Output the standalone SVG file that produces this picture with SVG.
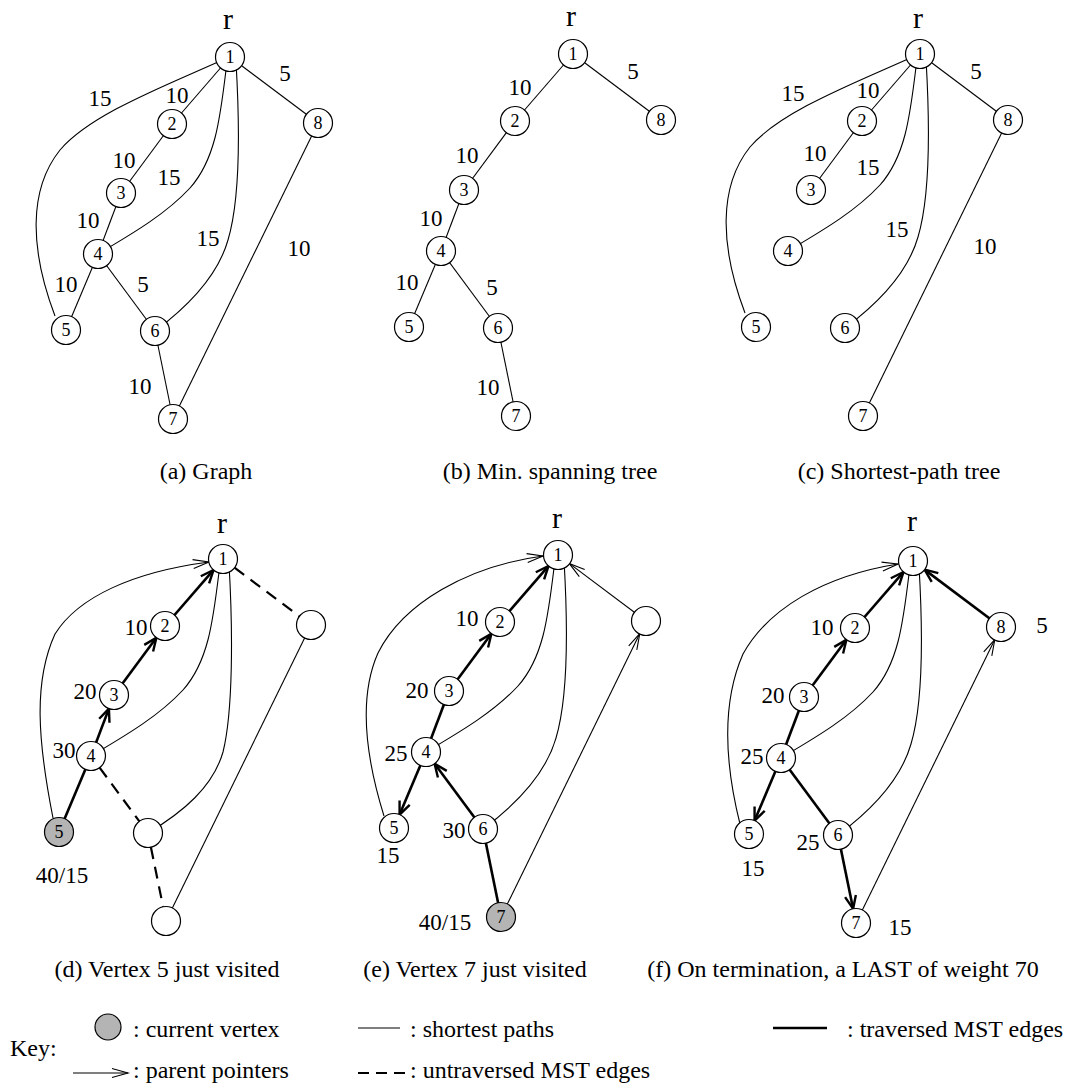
<svg xmlns="http://www.w3.org/2000/svg" width="1070" height="1084" viewBox="0 0 1070 1084">
  <defs>
    <style>
      .nd circle { fill: #fff; stroke: #000; stroke-width: 1.2; }
      .nd.cur circle { fill: #b4b4b4; }
      .nd text { font-family: "Liberation Serif", "Times New Roman", serif; font-size: 18px; text-anchor: middle; }
      .thin { fill: none; stroke: #000; stroke-width: 1.1; }
      .thick { fill: none; stroke: #000; stroke-width: 2.6; }
      .dash { fill: none; stroke: #000; stroke-width: 2.2; stroke-dasharray: 12 8; }
      .pp { marker-end: url(#ah); }
      .tp { marker-end: url(#ahb); }
      .w { font-family: "Liberation Serif", "Times New Roman", serif; font-size: 23px; text-anchor: middle; }
      .r { font-family: "Liberation Serif", "Times New Roman", serif; font-size: 30px; text-anchor: middle; }
      .cap { font-family: "Liberation Serif", "Times New Roman", serif; font-size: 24px; text-anchor: middle; }
      .key { font-family: "Liberation Serif", "Times New Roman", serif; font-size: 24px; }
    </style>
    <!-- open arrowhead for parent pointers -->
    <marker id="ah" viewBox="0 0 18 12" refX="17" refY="6" markerWidth="18" markerHeight="12" markerUnits="userSpaceOnUse" orient="auto" style="overflow:visible">
      <path d="M1 1.5 L17 6 L1 10.5" fill="none" stroke="#000" stroke-width="1.1"/>
    </marker>
    <!-- heavier open arrowhead for traversed MST edges -->
    <marker id="ahb" viewBox="0 0 16 14" refX="15" refY="7" markerWidth="16" markerHeight="14" markerUnits="userSpaceOnUse" orient="auto" style="overflow:visible">
      <path d="M1.5 1.5 L14.5 7 L1.5 12.5" fill="none" stroke="#000" stroke-width="2.4"/>
    </marker>
  </defs>
  <rect width="1070" height="1084" fill="#fff"/>

  <!-- (a) Graph -->
  <g id="panel-a">
    <g id="a-edges">
      <path class="thin" d="M55 316 C30 250 28 190 60 150 C90 115 160 88 218 62"/>
      <path class="thin" d="M226 70 C220 120 215 160 190 188 C165 215 130 235 98 254"/>
      <path class="thin" d="M236 62 C240 130 240 200 228 240 C218 275 190 305 155 331"/>
      <line class="thin" x1="230" y1="57" x2="172" y2="124"/>
      <line class="thin" x1="172" y1="124" x2="121" y2="193"/>
      <line class="thin" x1="121" y1="193" x2="98" y2="254"/>
      <line class="thin" x1="98" y1="254" x2="66" y2="330"/>
      <line class="thin" x1="98" y1="254" x2="155" y2="331"/>
      <line class="thin" x1="155" y1="331" x2="173" y2="419"/>
      <line class="thin" x1="230" y1="57" x2="318" y2="123"/>
      <line class="thin" x1="318" y1="123" x2="173" y2="419"/>
    </g>
    <g id="a-n1" class="nd"><circle cx="230" cy="57" r="14.5"/><text x="230" y="63">1</text></g>
    <g id="a-n2" class="nd"><circle cx="172" cy="124" r="14.5"/><text x="172" y="130">2</text></g>
    <g id="a-n3" class="nd"><circle cx="121" cy="193" r="14.5"/><text x="121" y="199">3</text></g>
    <g id="a-n4" class="nd"><circle cx="98" cy="254" r="14.5"/><text x="98" y="260">4</text></g>
    <g id="a-n5" class="nd"><circle cx="66" cy="330" r="14.5"/><text x="66" y="336">5</text></g>
    <g id="a-n6" class="nd"><circle cx="155" cy="331" r="14.5"/><text x="155" y="337">6</text></g>
    <g id="a-n7" class="nd"><circle cx="173" cy="419" r="14.5"/><text x="173" y="425">7</text></g>
    <g id="a-n8" class="nd"><circle cx="318" cy="123" r="14.5"/><text x="318" y="129">8</text></g>
    <g id="a-labels">
      <text class="r" x="228" y="29">r</text>
      <text class="w" x="100" y="106">15</text>
      <text class="w" x="177" y="103">10</text>
      <text class="w" x="285" y="81">5</text>
      <text class="w" x="124" y="168">10</text>
      <text class="w" x="169" y="185">15</text>
      <text class="w" x="88" y="228">10</text>
      <text class="w" x="208" y="246">15</text>
      <text class="w" x="299" y="256">10</text>
      <text class="w" x="66" y="292">10</text>
      <text class="w" x="143" y="292">5</text>
      <text class="w" x="140" y="394">10</text>
    </g>
  </g>

  <!-- (b) Min. spanning tree -->
  <g id="panel-b" transform="translate(343,-3)">
    <g id="b-edges">
      <line class="thin" x1="230" y1="57" x2="172" y2="124"/>
      <line class="thin" x1="172" y1="124" x2="121" y2="193"/>
      <line class="thin" x1="121" y1="193" x2="98" y2="254"/>
      <line class="thin" x1="98" y1="254" x2="66" y2="330"/>
      <line class="thin" x1="98" y1="254" x2="155" y2="331"/>
      <line class="thin" x1="155" y1="331" x2="173" y2="419"/>
      <line class="thin" x1="230" y1="57" x2="318" y2="123"/>
    </g>
    <g id="b-n1" class="nd"><circle cx="230" cy="57" r="14.5"/><text x="230" y="63">1</text></g>
    <g id="b-n2" class="nd"><circle cx="172" cy="124" r="14.5"/><text x="172" y="130">2</text></g>
    <g id="b-n3" class="nd"><circle cx="121" cy="193" r="14.5"/><text x="121" y="199">3</text></g>
    <g id="b-n4" class="nd"><circle cx="98" cy="254" r="14.5"/><text x="98" y="260">4</text></g>
    <g id="b-n5" class="nd"><circle cx="66" cy="330" r="14.5"/><text x="66" y="336">5</text></g>
    <g id="b-n6" class="nd"><circle cx="155" cy="331" r="14.5"/><text x="155" y="337">6</text></g>
    <g id="b-n7" class="nd"><circle cx="173" cy="419" r="14.5"/><text x="173" y="425">7</text></g>
    <g id="b-n8" class="nd"><circle cx="318" cy="123" r="14.5"/><text x="318" y="129">8</text></g>
    <g id="b-labels">
      <text class="r" x="228" y="29">r</text>
      <text class="w" x="177" y="98">10</text>
      <text class="w" x="290" y="82">5</text>
      <text class="w" x="124" y="166">10</text>
      <text class="w" x="88" y="229">10</text>
      <text class="w" x="64" y="293">10</text>
      <text class="w" x="149" y="298">5</text>
      <text class="w" x="145" y="398">10</text>
    </g>
  </g>

  <!-- (c) Shortest-path tree -->
  <g id="panel-c" transform="translate(690,-3)">
    <g id="c-edges">
      <path class="thin" d="M55 316 C30 250 28 190 60 150 C90 115 160 88 218 62"/>
      <path class="thin" d="M226 70 C220 120 215 160 190 188 C165 215 130 235 98 254"/>
      <path class="thin" d="M236 62 C240 130 240 200 228 240 C218 275 190 305 155 331"/>
      <line class="thin" x1="230" y1="57" x2="172" y2="124"/>
      <line class="thin" x1="172" y1="124" x2="121" y2="193"/>
      <line class="thin" x1="230" y1="57" x2="318" y2="123"/>
      <line class="thin" x1="318" y1="123" x2="173" y2="419"/>
    </g>
    <g id="c-n1" class="nd"><circle cx="230" cy="57" r="14.5"/><text x="230" y="63">1</text></g>
    <g id="c-n2" class="nd"><circle cx="172" cy="124" r="14.5"/><text x="172" y="130">2</text></g>
    <g id="c-n3" class="nd"><circle cx="121" cy="193" r="14.5"/><text x="121" y="199">3</text></g>
    <g id="c-n4" class="nd"><circle cx="98" cy="254" r="14.5"/><text x="98" y="260">4</text></g>
    <g id="c-n5" class="nd"><circle cx="66" cy="330" r="14.5"/><text x="66" y="336">5</text></g>
    <g id="c-n6" class="nd"><circle cx="155" cy="331" r="14.5"/><text x="155" y="337">6</text></g>
    <g id="c-n7" class="nd"><circle cx="173" cy="419" r="14.5"/><text x="173" y="425">7</text></g>
    <g id="c-n8" class="nd"><circle cx="318" cy="123" r="14.5"/><text x="318" y="129">8</text></g>
    <g id="c-labels">
      <text class="r" x="228" y="31">r</text>
      <text class="w" x="103" y="104">15</text>
      <text class="w" x="178" y="101">10</text>
      <text class="w" x="286" y="82">5</text>
      <text class="w" x="125" y="164">10</text>
      <text class="w" x="178" y="178">15</text>
      <text class="w" x="207" y="240">15</text>
      <text class="w" x="295" y="257">10</text>
    </g>
  </g>

  <!-- (d) Vertex 5 just visited -->
  <g id="panel-d" transform="translate(-7,502)">
    <g id="d-edges">
      <path class="thin pp" d="M60 316 C45 240 40 180 62 132 C85 95 140 70 216 60"/>
      <path class="thin" d="M226 70 C220 120 215 160 190 188 C165 215 130 235 98 254"/>
      <path class="thin" d="M236 62 C240 130 240 210 230 250 C220 285 190 310 155 331"/>
      <line class="thin" x1="318" y1="123" x2="173" y2="419"/>
      <line class="thick tp" x1="172" y1="124" x2="220.8" y2="67.6"/>
      <line class="thick tp" x1="121" y1="193" x2="163.7" y2="135.3"/>
      <line class="thick tp" x1="98" y1="254" x2="116.1" y2="206.1"/>
      <line class="thick" x1="98" y1="254" x2="66" y2="330"/>
      <line class="dash" x1="241.5" y1="65.7" x2="306.5" y2="114.3"/>
      <line class="dash" x1="106.6" y1="265.6" x2="146.4" y2="319.4"/>
      <line class="dash" x1="157.9" y1="345.2" x2="170.1" y2="404.8"/>
    </g>
    <g id="d-n1" class="nd"><circle cx="230" cy="57" r="14.5"/><text x="230" y="63">1</text></g>
    <g id="d-n2" class="nd"><circle cx="172" cy="124" r="14.5"/><text x="172" y="130">2</text></g>
    <g id="d-n3" class="nd"><circle cx="121" cy="193" r="14.5"/><text x="121" y="199">3</text></g>
    <g id="d-n4" class="nd"><circle cx="98" cy="254" r="14.5"/><text x="98" y="260">4</text></g>
    <g id="d-n5" class="nd cur"><circle cx="66" cy="330" r="14.5"/><text x="66" y="336">5</text></g>
    <g id="d-n6" class="nd"><circle cx="155" cy="331" r="14.5"/></g>
    <g id="d-n7" class="nd"><circle cx="173" cy="419" r="14.5"/></g>
    <g id="d-n8" class="nd"><circle cx="318" cy="123" r="14.5"/></g>
    <g id="d-labels">
      <text class="r" x="229" y="31">r</text>
      <text class="w" x="143" y="133">10</text>
      <text class="w" x="92" y="197">20</text>
      <text class="w" x="71" y="256">30</text>
      <text class="w" x="69" y="381">40/15</text>
    </g>
  </g>

  <!-- (e) Vertex 7 just visited -->
  <g id="panel-e" transform="translate(328,498)">
    <g id="e-edges">
      <path class="thin pp" d="M56 318 C38 260 30 200 50 155 C75 105 140 68 215 58"/>
      <path class="thin" d="M226 70 C220 120 215 160 190 188 C165 215 130 235 98 254"/>
      <path class="thin" d="M236 62 C240 130 240 200 228 240 C218 275 190 305 155 331"/>
      <line class="thin pp" x1="318" y1="123" x2="241.2" y2="65.4"/>
      <line class="thin pp" x1="173" y1="419" x2="311.8" y2="135.6"/>
      <line class="thick tp" x1="172" y1="124" x2="220.8" y2="67.6"/>
      <line class="thick tp" x1="121" y1="193" x2="163.7" y2="135.3"/>
      <line class="thick" x1="121" y1="193" x2="98" y2="254"/>
      <line class="thick tp" x1="98" y1="254" x2="71.4" y2="317.1"/>
      <line class="thick tp" x1="155" y1="331" x2="106.3" y2="265.3"/>
      <line class="thick" x1="155" y1="331" x2="173" y2="419"/>
    </g>
    <g id="e-n1" class="nd"><circle cx="230" cy="57" r="14.5"/><text x="230" y="63">1</text></g>
    <g id="e-n2" class="nd"><circle cx="172" cy="124" r="14.5"/><text x="172" y="130">2</text></g>
    <g id="e-n3" class="nd"><circle cx="121" cy="193" r="14.5"/><text x="121" y="199">3</text></g>
    <g id="e-n4" class="nd"><circle cx="98" cy="254" r="14.5"/><text x="98" y="260">4</text></g>
    <g id="e-n5" class="nd"><circle cx="66" cy="330" r="14.5"/><text x="66" y="336">5</text></g>
    <g id="e-n6" class="nd"><circle cx="155" cy="331" r="14.5"/><text x="155" y="337">6</text></g>
    <g id="e-n7" class="nd cur"><circle cx="173" cy="419" r="14.5"/><text x="173" y="425">7</text></g>
    <g id="e-n8" class="nd"><circle cx="318" cy="123" r="14.5"/></g>
    <g id="e-labels">
      <text class="r" x="229" y="30">r</text>
      <text class="w" x="139" y="128">10</text>
      <text class="w" x="89" y="200">20</text>
      <text class="w" x="68" y="263">25</text>
      <text class="w" x="60" y="365">15</text>
      <text class="w" x="126" y="340">30</text>
      <text class="w" x="117" y="432">40/15</text>
    </g>
  </g>

  <!-- (f) On termination -->
  <g id="panel-f" transform="translate(683,504)">
    <g id="f-edges">
      <path class="thin pp" d="M57 320 C42 260 38 200 60 150 C85 105 140 72 215 60"/>
      <path class="thin" d="M226 70 C220 120 215 160 190 188 C165 215 130 235 98 254"/>
      <path class="thin" d="M236 62 C240 130 240 200 228 240 C218 275 190 305 155 331"/>
      <line class="thin pp" x1="173" y1="419" x2="311.8" y2="135.6"/>
      <line class="thick tp" x1="172" y1="124" x2="220.8" y2="67.6"/>
      <line class="thick tp" x1="121" y1="193" x2="163.7" y2="135.3"/>
      <line class="thick" x1="121" y1="193" x2="98" y2="254"/>
      <line class="thick tp" x1="98" y1="254" x2="71.4" y2="317.1"/>
      <line class="thick" x1="98" y1="254" x2="155" y2="331"/>
      <line class="thick tp" x1="155" y1="331" x2="170.2" y2="405.3"/>
      <line class="thick tp" x1="318" y1="123" x2="241.2" y2="65.4"/>
    </g>
    <g id="f-n1" class="nd"><circle cx="230" cy="57" r="14.5"/><text x="230" y="63">1</text></g>
    <g id="f-n2" class="nd"><circle cx="172" cy="124" r="14.5"/><text x="172" y="130">2</text></g>
    <g id="f-n3" class="nd"><circle cx="121" cy="193" r="14.5"/><text x="121" y="199">3</text></g>
    <g id="f-n4" class="nd"><circle cx="98" cy="254" r="14.5"/><text x="98" y="260">4</text></g>
    <g id="f-n5" class="nd"><circle cx="66" cy="330" r="14.5"/><text x="66" y="336">5</text></g>
    <g id="f-n6" class="nd"><circle cx="155" cy="331" r="14.5"/><text x="155" y="337">6</text></g>
    <g id="f-n7" class="nd"><circle cx="173" cy="419" r="14.5"/><text x="173" y="425">7</text></g>
    <g id="f-n8" class="nd"><circle cx="318" cy="123" r="14.5"/><text x="318" y="129">8</text></g>
    <g id="f-labels">
      <text class="r" x="229" y="27">r</text>
      <text class="w" x="139" y="131">10</text>
      <text class="w" x="90" y="199">20</text>
      <text class="w" x="69" y="260">25</text>
      <text class="w" x="359" y="129">5</text>
      <text class="w" x="125" y="346">25</text>
      <text class="w" x="70" y="372">15</text>
      <text class="w" x="217" y="431">15</text>
    </g>
  </g>

  <!-- captions -->
  <g id="captions">
    <text class="cap" x="206" y="479">(a) Graph</text>
    <text class="cap" x="550" y="479">(b) Min. spanning tree</text>
    <text class="cap" x="899" y="479">(c) Shortest-path tree</text>
    <text class="cap" x="167" y="977">(d) Vertex 5 just visited</text>
    <text class="cap" x="475" y="977">(e) Vertex 7 just visited</text>
    <text class="cap" x="843" y="977">(f) On termination, a LAST of weight 70</text>
  </g>

  <!-- legend -->
  <g id="key">
    <text class="key" x="10" y="1056">Key:</text>
    <circle cx="108" cy="1027" r="13" fill="#b4b4b4" stroke="#000" stroke-width="1.2"/>
    <text class="key" x="133" y="1037">: current vertex</text>
    <line class="thin pp" x1="73" y1="1073" x2="128" y2="1073"/>
    <text class="key" x="133" y="1078">: parent pointers</text>
    <line class="thin" x1="358" y1="1028" x2="400" y2="1028"/>
    <text class="key" x="410" y="1037">: shortest paths</text>
    <line class="dash" x1="358" y1="1073" x2="405" y2="1073" style="stroke-dasharray: 11 7"/>
    <text class="key" x="410" y="1078">: untraversed MST edges</text>
    <line class="thick" x1="773" y1="1028" x2="827" y2="1028"/>
    <text class="key" x="847" y="1037">: traversed MST edges</text>
  </g>
</svg>
